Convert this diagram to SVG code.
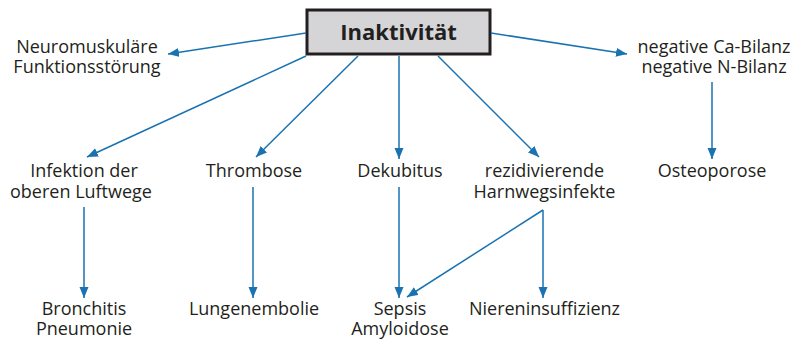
<svg xmlns="http://www.w3.org/2000/svg" width="801" height="343" viewBox="0 0 801 343">
<defs>
<marker id="ah" markerUnits="userSpaceOnUse" markerWidth="12" markerHeight="10" refX="11" refY="4.5" orient="auto">
<path d="M0,0 L11,4.5 L0,9 z" fill="#1a73b0"/>
</marker>
<style>
text{font-family:"Open Sans","Noto Sans","Liberation Sans",sans-serif;font-size:18px;fill:#231f20;text-anchor:middle}
.t{font-weight:bold;font-size:22px}
.c line{stroke:#1a73b0;stroke-width:1.5;marker-end:url(#ah)}
</style>
</defs>
<rect width="801" height="343" fill="#ffffff"/>
<g id="inaktivitaet">
<rect x="307" y="10" width="183" height="44" fill="#d5d5d7" stroke="#231f20" stroke-width="3"/>
<text class="t" x="398.5" y="40">Inaktivität</text>
</g>
<g id="neuromuskulaer">
<text x="87" y="53">Neuromuskuläre</text>
<text x="87" y="73">Funktionsstörung</text>
</g>
<g id="bilanz">
<text x="714" y="53">negative Ca-Bilanz</text>
<text x="714" y="73">negative N-Bilanz</text>
</g>
<g id="infektion">
<text x="84" y="177">Infektion der</text>
<text x="81" y="198">oberen Luftwege</text>
</g>
<g id="thrombose"><text x="254" y="177">Thrombose</text></g>
<g id="dekubitus"><text x="400" y="177">Dekubitus</text></g>
<g id="harnweg">
<text x="544.5" y="177">rezidivierende</text>
<text x="544.5" y="198">Harnwegsinfekte</text>
</g>
<g id="osteoporose"><text x="712" y="177">Osteoporose</text></g>
<g id="bronchitis">
<text x="84" y="315">Bronchitis</text>
<text x="84" y="335">Pneumonie</text>
</g>
<g id="lungenembolie"><text x="254" y="315">Lungenembolie</text></g>
<g id="sepsis">
<text x="400" y="315">Sepsis</text>
<text x="400" y="335">Amyloidose</text>
</g>
<g id="niereninsuffizienz"><text x="544.5" y="315">Niereninsuffizienz</text></g>
<g id="connectors" class="c">
<line x1="306" y1="33" x2="168" y2="54"/>
<line x1="306" y1="56" x2="87" y2="157"/>
<line x1="358" y1="56" x2="256" y2="157"/>
<line x1="399" y1="56" x2="399" y2="159"/>
<line x1="438" y1="56" x2="539" y2="157"/>
<line x1="491" y1="33" x2="627" y2="54"/>
<line x1="712" y1="82" x2="712" y2="159"/>
<line x1="84" y1="207" x2="84" y2="298"/>
<line x1="253" y1="187" x2="253" y2="298"/>
<line x1="399" y1="187" x2="399" y2="298"/>
<line x1="543" y1="210" x2="407" y2="297"/>
<line x1="543" y1="210" x2="543" y2="298"/>
</g>
</svg>
